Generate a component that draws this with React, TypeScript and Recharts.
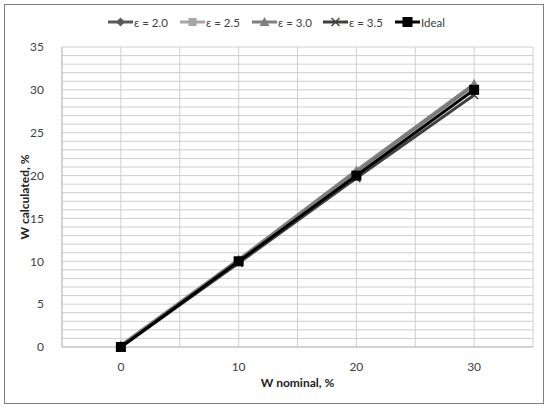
import React from "react";
import { LineChart, Line, XAxis, YAxis, CartesianGrid } from "recharts";

const nominal = [0, 10, 20, 30];
const eps20 = [0.1, 10.1, 20.3, 30.4];
const eps25 = [0.0, 10.0, 20.1, 30.2];
const eps30 = [0.2, 10.2, 20.6, 30.7];
const eps35 = [0.0, 9.8, 19.7, 29.4];
const ideal = [0, 10, 20, 30];
const xTicks = [0, 10, 20, 30];
const yTicks = [0, 5, 10, 15, 20, 25, 30, 35];
const xGridTicks = [-5, 0, 5, 10, 15, 20, 25, 30, 35];
const yMax = 35;
const yGridTicks = Array.from({ length: 36 }, (_, i) => i);
const legendNames = ["ε = 2.0", "ε = 2.5", "ε = 3.0", "ε = 3.5", "Ideal"];

const data = nominal.map((x, i) => ({
  x,
  e20: eps20[i],
  e25: eps25[i],
  e30: eps30[i],
  e35: eps35[i],
  ideal: ideal[i],
}));

type Shape = "diamond" | "square" | "triangle" | "cross" | "bigsquare";

const Marker = ({ cx, cy, shape, color }: { cx: number; cy: number; shape: Shape; color: string }) => {
  if (cx == null || cy == null) return null;
  switch (shape) {
    case "diamond":
      return <polygon points={`${cx},${cy - 4.5} ${cx + 4.5},${cy} ${cx},${cy + 4.5} ${cx - 4.5},${cy}`} fill={color} />;
    case "square":
      return <rect x={cx - 4} y={cy - 4} width={8} height={8} fill={color} />;
    case "triangle":
      return <polygon points={`${cx},${cy - 5} ${cx + 5},${cy + 4} ${cx - 5},${cy + 4}`} fill={color} />;
    case "cross":
      return (
        <g stroke={color} strokeWidth={1.5}>
          <line x1={cx - 4} y1={cy - 4} x2={cx + 4} y2={cy + 4} />
          <line x1={cx - 4} y1={cy + 4} x2={cx + 4} y2={cy - 4} />
        </g>
      );
    case "bigsquare":
      return <rect x={cx - 5} y={cy - 5} width={10} height={10} fill={color} />;
  }
  return null;
};

const series: { key: string; color: string; shape: Shape }[] = [
  { key: "e20", color: "#5a5a5a", shape: "diamond" },
  { key: "e25", color: "#a6a6a6", shape: "square" },
  { key: "e30", color: "#7f7f7f", shape: "triangle" },
  { key: "e35", color: "#404040", shape: "cross" },
  { key: "ideal", color: "#000000", shape: "bigsquare" },
];

const legendX = [108, 180, 252, 323, 395];

const hGen = (p: any) => {
  const off = p && p.offset ? p.offset : { top: 47, height: 300 };
  const top = off.top ?? 47;
  const h = off.height ?? 300;
  return yGridTicks.map((t) => top + h * (1 - t / yMax));
};

export default function App() {
  const font = "Lato, 'Open Sans', sans-serif";
  return (
    <div style={{ position: "absolute", left: 0, top: 0, width: 550, height: 409, background: "#fff", fontFamily: font }}>
      <div
        style={{
          position: "absolute",
          left: 4,
          top: 4,
          width: 540,
          height: 400,
          border: "1px solid #7f7f7f",
          boxSizing: "border-box",
        }}
      />
      <LineChart
        width={550}
        height={409}
        data={data}
        margin={{ top: 47, right: 17, bottom: 22, left: 0 }}
        style={{ position: "absolute", left: 0, top: 0 }}
      >
        <XAxis xAxisId="grid" dataKey="x" type="number" domain={[-5, 35]} ticks={xGridTicks} hide />
        <CartesianGrid xAxisId="grid" stroke="#cfcfcf" strokeWidth={1} horizontalCoordinatesGenerator={hGen} />
        <XAxis
          dataKey="x"
          type="number"
          domain={[-5, 35]}
          ticks={xTicks}
          height={40}
          tickLine={false}
          axisLine={{ stroke: "#bfbfbf" }}
          tick={{ fill: "#404040", fontSize: 12, fontFamily: font }}
          tickMargin={9}
          label={{ value: "W nominal, %", position: "insideBottom", offset: 0, fill: "#222", fontSize: 12, fontWeight: 700, fontFamily: font }}
        />
        <YAxis
          type="number"
          domain={[0, yMax]}
          ticks={yTicks}
          width={62}
          tickLine={false}
          axisLine={{ stroke: "#bfbfbf" }}
          tick={{ fill: "#404040", fontSize: 12, fontFamily: font }}
          tickMargin={12}
          label={{ value: "W calculated, %", angle: -90, position: "insideLeft", offset: 25, fill: "#222", fontSize: 12, fontWeight: 700, fontFamily: font, style: { textAnchor: "middle" } }}
        />
        {series.map((s) => (
          <Line
            key={s.key}
            dataKey={s.key}
            stroke={s.color}
            strokeWidth={3}
            isAnimationActive={false}
            dot={(p: any) => <Marker key={`${s.key}-${p.index}`} cx={p.cx} cy={p.cy} shape={s.shape} color={s.color} />}
            activeDot={false}
          />
        ))}
      </LineChart>
      {series.map((s, i) => (
        <div key={s.key} style={{ position: "absolute", left: legendX[i], top: 14, height: 16, display: "flex", alignItems: "center" }}>
          <svg width={25} height={16}>
            <line x1={0} y1={8} x2={25} y2={8} stroke={s.color} strokeWidth={3} />
            <Marker cx={12.5} cy={8} shape={s.shape} color={s.color} />
          </svg>
          <span style={{ fontSize: 11.5, color: "#404040", marginLeft: 1, whiteSpace: "nowrap" }}>{legendNames[i]}</span>
        </div>
      ))}
    </div>
  );
}
